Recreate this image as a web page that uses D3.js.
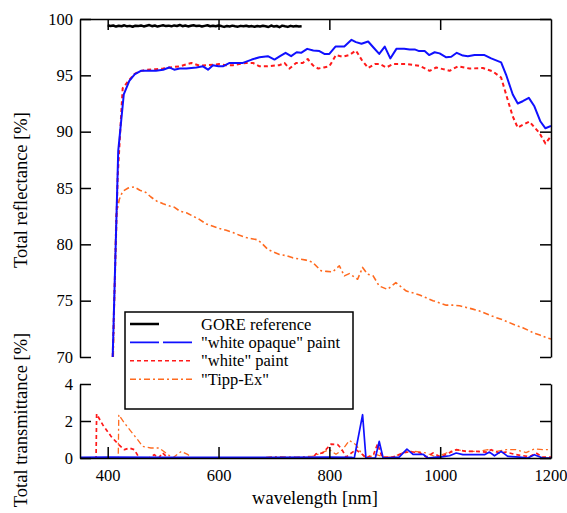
<!DOCTYPE html>
<html>
<head>
<meta charset="utf-8">
<script src="https://cdn.jsdelivr.net/npm/d3@7"></script>
<style>
  body { margin: 0; background: #fff; }
  svg text { fill: #000; }
</style>
</head>
<body>
<div id="chart"></div>
<script>
// reflectance [wavelength nm, %]
const goreStart = 400;
const goreStep = 5;
const goreRefl = [99.45,99.38,99.42,99.33,99.40,99.36,99.44,99.35,99.39,99.31,99.41,99.37,99.43,99.34,99.40,99.46,99.36,99.42,99.33,99.39,99.44,99.37,99.41,99.35,99.43,99.38,99.47,99.36,99.42,99.34,99.40,99.45,99.37,99.41,99.33,99.39,99.44,99.36,99.40,99.35,99.42,99.37,99.30,99.38,99.34,99.41,99.36,99.32,99.39,99.35,99.40,99.33,99.37,99.31,99.38,99.34,99.40,99.36,99.29,99.42,99.33,99.38,99.27,99.41,99.35,99.30,99.39,99.34,99.37,99.33,99.35];

const opaqueRefl = [[409,70],[419,88.3],[429,93.3],[439,94.5],[449,95.1],[460,95.4],[470,95.4],[487,95.4],[500,95.5],[511,95.7],[520,95.5],[530,95.6],[542,95.6],[560,95.7],[572,95.8],[581,95.5],[590,95.9],[600,95.8],[608,95.8],[620,96.1],[632,96.1],[644,96.1],[660,96.4],[674,96.6],[689,96.7],[701,96.4],[711,96.7],[721,97.0],[731,96.7],[741,97.05],[749,97.0],[760,97.35],[771,97.2],[782,97.15],[791,96.9],[800,96.9],[811,97.55],[827,97.55],[840,98.15],[848,97.95],[858,97.8],[870,98.0],[880,97.45],[890,96.9],[900,97.55],[910,96.5],[921,97.35],[935,97.35],[945,97.3],[954,97.3],[962,97.15],[972,97.15],[980,96.8],[990,97.05],[999,96.95],[1011,96.6],[1020,96.65],[1030,97.0],[1041,96.75],[1050,96.7],[1062,96.8],[1080,96.8],[1092,96.5],[1110,96.15],[1119,95.05],[1131,93.3],[1140,92.5],[1149,92.7],[1160,93.0],[1170,92.25],[1181,90.9],[1190,90.3],[1200,90.5]];

const whiteRefl = [[409,70],[418,86],[427,93.85],[439,94.6],[448,95.1],[457,95.35],[470,95.5],[487,95.55],[500,95.6],[511,95.7],[530,95.8],[551,96.1],[566,95.85],[581,95.9],[601,96.0],[613,95.9],[626,95.9],[650,96.1],[662,96.1],[674,95.8],[686,95.8],[698,95.85],[710,95.9],[719,96.1],[728,95.6],[740,96.1],[752,96.1],[761,96.45],[770,95.9],[780,95.6],[790,95.7],[800,95.8],[812,96.8],[824,96.65],[836,96.8],[848,97.2],[858,96.4],[870,95.65],[882,96.0],[891,96.0],[903,95.7],[915,96.0],[939,96.0],[963,95.85],[981,95.4],[993,95.7],[1005,95.55],[1017,95.4],[1032,95.8],[1053,95.6],[1077,95.65],[1095,95.35],[1110,94.8],[1122,92.8],[1131,91.35],[1140,90.35],[1149,90.6],[1161,90.9],[1170,90.4],[1179,89.9],[1190,88.95],[1200,89.6]];

const tippRefl = [[410,70],[415,82.5],[421,84],[427,84.7],[437,85.0],[448,85.1],[458,84.8],[469,84.6],[478,84.2],[488,83.85],[500,83.6],[512,83.4],[520,83.3],[530,82.95],[542,82.8],[554,82.5],[566,82.2],[578,81.8],[590,81.6],[602,81.4],[614,81.25],[626,81.05],[638,80.8],[650,80.6],[660,80.5],[671,80.4],[680,80.0],[689,79.55],[700,79.3],[710,79.1],[722,79.0],[734,78.8],[746,78.7],[758,78.6],[770,78.4],[785,77.65],[795,77.6],[806,77.55],[818,78.1],[827,77.2],[836,77.4],[842,77.2],[851,76.9],[860,77.95],[869,77.35],[879,77.2],[890,76.3],[905,76.0],[920,76.6],[930,76.2],[939,75.85],[950,75.7],[963,75.5],[975,75.25],[987,75.0],[999,74.8],[1011,74.6],[1023,74.6],[1035,74.55],[1047,74.4],[1059,74.25],[1070,74.1],[1080,73.9],[1090,73.7],[1101,73.5],[1113,73.3],[1125,73.05],[1137,72.8],[1149,72.6],[1160,72.35],[1170,72.1],[1180,71.95],[1190,71.75],[1200,71.6]];

// transmittance [wavelength nm, %]
const opaqueTrans = [[350,0.03],[400,0.05],[500,0.03],[600,0.03],[700,0.04],[800,0.05],[840,0.03],[845,0],[860,2.34],[866,0],[883,0],[890,0.9],[897,0],[926,0.05],[940,0.48],[951,0.2],[969,0.2],[978,0],[993,0.05],[1000,0.05],[1017,0.12],[1029,0.27],[1041,0.18],[1065,0.18],[1080,0.18],[1089,0.32],[1098,0.12],[1110,0.36],[1122,0.09],[1143,0.05],[1158,0],[1170,0.18],[1185,0],[1200,0]];

const whiteTrans = [[350,0],[379,0],[380,2.38],[391,1.8],[406,1.17],[420,0.72],[430,0.45],[439,0.54],[448,0.45],[457,0],[475,0],[484,0.18],[492,0],[499,0.27],[505,0.1],[512,0],[770,0],[776,0.23],[788,0.27],[803,0.75],[815,0.72],[822,0.5],[830,0.05],[848,0.45],[860,0.18],[866,0],[880,0.2],[887,0.77],[895,0.05],[915,0.05],[933,0.27],[945,0.34],[963,0.29],[975,0.05],[987,0.27],[1001,0.05],[1017,0.29],[1029,0.45],[1047,0.36],[1065,0.36],[1083,0.32],[1092,0.45],[1107,0.27],[1119,0.32],[1137,0.18],[1161,0.07],[1173,0.27],[1185,0.05],[1200,0.05]];

const tippTrans = [[350,0.02],[419,0.02],[420,2.34],[430,1.9],[442,1.44],[454,0.99],[463,0.63],[478,0.54],[493,0.54],[505,0.27],[517,0],[533,0.36],[545,0.18],[551,0],[680,0.02],[700,0.08],[740,0.05],[770,0.1],[782,0.23],[800,0.45],[812,0.2],[824,0.45],[836,0.95],[848,0.72],[857,0.3],[866,0],[885,0.18],[900,0.05],[914,0.05],[939,0.36],[954,0.36],[975,0.27],[993,0.05],[1011,0.27],[1029,0.45],[1047,0.36],[1071,0.36],[1086,0.45],[1101,0.36],[1119,0.45],[1137,0.45],[1155,0.29],[1170,0.49],[1185,0.45],[1200,0.45]];

const xTicks = [400, 600, 800, 1000, 1200];
const reflTicks = [70, 75, 80, 85, 90, 95, 100];
const transTicks = [0, 2, 4];
const legendLabels = ['GORE reference', '"white opaque" paint', '"white" paint', '"Tipp-Ex"'];

const width = 567;
const height = 513;
const fontFamily = '"Liberation Serif", "DejaVu Serif", "Noto Serif", "Times New Roman", serif';

const svg = d3.select('#chart').append('svg')
  .attr('width', width)
  .attr('height', height)
  .attr('font-family', fontFamily);

const x = d3.scaleLinear().domain([350, 1200]).range([80, 551]);
const yTop = d3.scaleLinear().domain([70, 100]).range([357, 19]);
const yBot = d3.scaleLinear().domain([0, 4]).range([458, 384]);

const styles = [
  {color: '#000000', width: 2.5, dash: null, legendDash: null, legendLen: 29},
  {color: '#1010ff', width: 2, dash: null, legendDash: '29,4', legendLen: 63},
  {color: '#ff1a1a', width: 2, dash: '4,3', legendDash: '4,3', legendLen: 63},
  {color: '#ff6a1f', width: 1.6, dash: '6,3,2,3', legendDash: '6,3,2,3', legendLen: 63}
];

// clip regions
const defs = svg.append('defs');
defs.append('clipPath').attr('id', 'clipTop').append('rect')
  .attr('x', x(350)).attr('y', yTop(100)).attr('width', x(1200) - x(350)).attr('height', yTop(70) - yTop(100) + 1);
defs.append('clipPath').attr('id', 'clipBot').append('rect')
  .attr('x', x(350)).attr('y', yBot(4) - 2).attr('width', x(1200) - x(350)).attr('height', yBot(0) - yBot(4) + 2);

const lineTop = d3.line().x(d => x(d[0])).y(d => yTop(d[1]));
const lineBot = d3.line().x(d => x(d[0])).y(d => yBot(d[1]));

const gore = goreRefl.map((v, i) => [goreStart + i * goreStep, v]);

const topSeries = [gore, opaqueRefl, whiteRefl, tippRefl];
const botSeries = [null, opaqueTrans, whiteTrans, tippTrans];

const gTop = svg.append('g').attr('clip-path', 'url(#clipTop)');
const gBot = svg.append('g').attr('clip-path', 'url(#clipBot)');

// draw order: tipp, white, opaque, gore
[3, 2, 1, 0].forEach(i => {
  const s = styles[i];
  gTop.append('path')
    .attr('d', lineTop(topSeries[i]))
    .attr('fill', 'none')
    .attr('stroke', s.color)
    .attr('stroke-width', s.width)
    .attr('stroke-dasharray', s.dash)
    .attr('stroke-linejoin', 'round');
  if (botSeries[i]) {
    gBot.append('path')
      .attr('d', lineBot(botSeries[i]))
      .attr('fill', 'none')
      .attr('stroke', s.color)
      .attr('stroke-width', s.width - 0.3)
      .attr('stroke-dasharray', s.dash)
      .attr('stroke-linejoin', 'round');
  }
});

// axes
function styleAxis(g) {
  g.attr('font-family', fontFamily).attr('font-size', 16.5);
  g.selectAll('path, line').attr('stroke', '#000').attr('stroke-width', 1.5);
  g.selectAll('text').attr('fill', '#000');
}
const fmt = d3.format('d');

svg.append('g').attr('transform', `translate(${x(350)},0)`)
  .call(d3.axisLeft(yTop).tickValues(reflTicks).tickSize(-11).tickSizeOuter(0).tickPadding(7).tickFormat(fmt))
  .call(styleAxis);
svg.append('g').attr('transform', `translate(${x(1200)},0)`)
  .call(d3.axisRight(yTop).tickValues(reflTicks).tickSize(-11).tickSizeOuter(0).tickFormat(''))
  .call(styleAxis);
svg.append('g').attr('transform', `translate(0,${yTop(100)})`)
  .call(d3.axisTop(x).tickValues([400, 600, 800, 1000]).tickSize(-11).tickSizeOuter(0).tickFormat(''))
  .call(styleAxis);

svg.append('g').attr('transform', `translate(${x(350)},0)`)
  .call(d3.axisLeft(yBot).tickValues(transTicks).tickSize(-11).tickSizeOuter(0).tickPadding(7).tickFormat(fmt))
  .call(styleAxis);
svg.append('g').attr('transform', `translate(${x(1200)},0)`)
  .call(d3.axisRight(yBot).tickValues(transTicks).tickSize(-11).tickSizeOuter(0).tickFormat(''))
  .call(styleAxis);
svg.append('g').attr('transform', `translate(0,${yBot(0)})`)
  .call(d3.axisBottom(x).tickValues(xTicks).tickSize(-11).tickSizeOuter(0).tickPadding(11).tickFormat(fmt))
  .call(styleAxis)
  .call(g => {
    const last = g.selectAll('.tick').filter(d => d === 1200);
    last.select('line').remove();
    last.select('text').attr('text-anchor', 'end').attr('x', 16);
  });

// axis titles
svg.append('text')
  .attr('transform', 'translate(27,190) rotate(-90)')
  .attr('text-anchor', 'middle')
  .attr('font-size', 18.5)
  .text('Total reflectance [%]');
svg.append('text')
  .attr('transform', 'translate(27,420) rotate(-90)')
  .attr('text-anchor', 'middle')
  .attr('font-size', 18.5)
  .text('Total transmittance [%]');
svg.append('text')
  .attr('x', 315)
  .attr('y', 504)
  .attr('text-anchor', 'middle')
  .attr('font-size', 18.5)
  .text('wavelength [nm]');

// legend
const legend = svg.append('g').attr('transform', 'translate(125,312)');
legend.append('rect')
  .attr('width', 228).attr('height', 97)
  .attr('fill', '#fff').attr('stroke', '#000').attr('stroke-width', 1.5);
legendLabels.forEach((label, i) => {
  const yy = 12 + i * 18.4;
  const s = styles[i];
  legend.append('line')
    .attr('x1', 5).attr('x2', 5 + s.legendLen).attr('y1', yy).attr('y2', yy)
    .attr('stroke', s.color)
    .attr('stroke-width', i === 0 ? 2.5 : 1.6)
    .attr('stroke-dasharray', s.legendDash);
  legend.append('text')
    .attr('x', 76).attr('y', yy + 5.5)
    .attr('font-size', 16.5)
    .text(label);
});
</script>
</body>
</html>
